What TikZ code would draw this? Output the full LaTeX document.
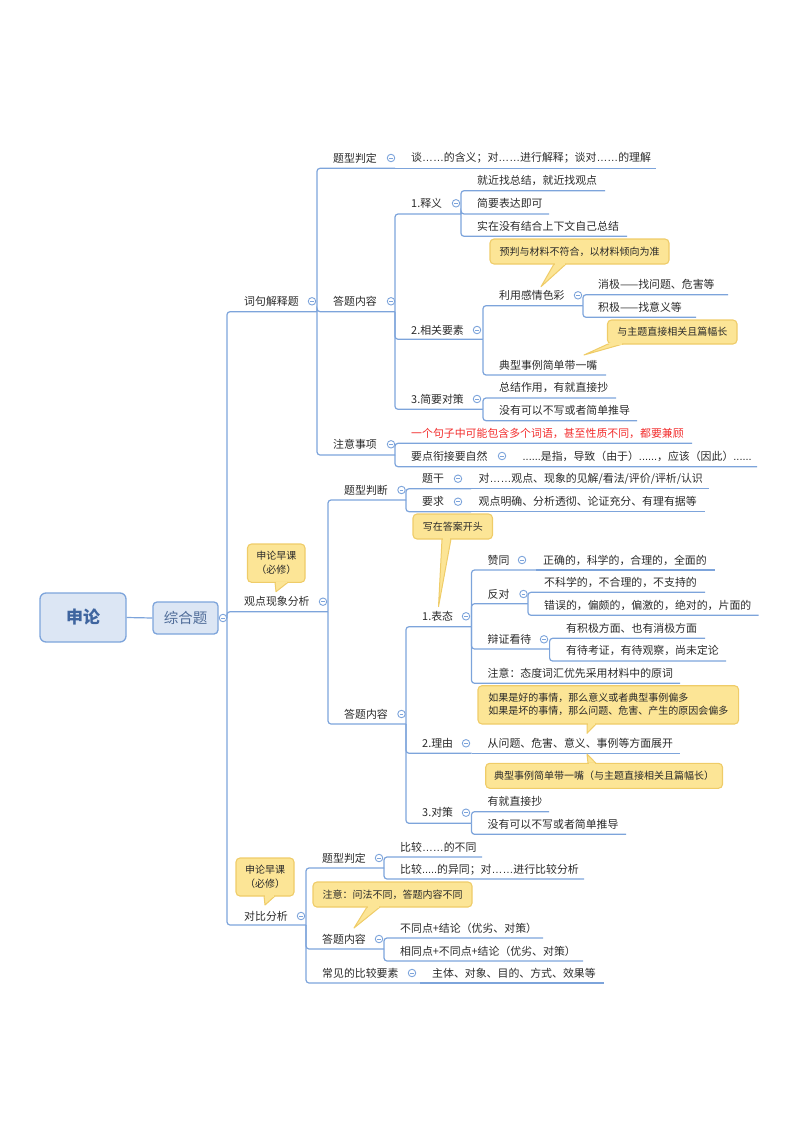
\documentclass[tikz,border=0pt]{standalone}
\usepackage{fontspec}
\setmainfont{Noto Sans CJK SC}
\newfontfamily\latinfont{Liberation Sans}
\newcommand{\dd}{{\latinfont ……}}
\newcommand{\dds}{{\latinfont ......}}
\definecolor{linkblue}{HTML}{7DA4DB}
\definecolor{rootfill}{HTML}{DCE6F4}
\definecolor{rootink}{HTML}{3F659F}
\definecolor{subink}{HTML}{4F6C98}
\definecolor{noteFill}{HTML}{FCE596}
\definecolor{noteLine}{HTML}{EFCC68}
\definecolor{inkc}{HTML}{2A2A2A}
\definecolor{redc}{HTML}{F22C2C}
\tikzset{
  link/.style={draw=linkblue,line width=1.2pt,rounded corners=3pt},
  txt/.style={anchor=west,inner sep=0pt,text=inkc,font=\fontsize{10.9}{13}\selectfont},
  foldm/.style={circle,draw=linkblue,fill=white,line width=0.9pt,minimum size=7.5pt,inner sep=0pt,
    path picture={\draw[linkblue,line width=0.7pt] ([xshift=1.8pt]path picture bounding box.west) -- ([xshift=-1.8pt]path picture bounding box.east);}},
  callbox/.style={draw=noteLine,fill=noteFill,line width=1.1pt,rounded corners=4pt,inner sep=0pt,align=center,text=inkc,font=\fontsize{10}{14}\selectfont},
  calltip/.style={draw=noteLine,fill=noteFill,line width=1pt,line join=round},
  rootbox/.style={draw=linkblue,fill=rootfill,line width=1.3pt,rounded corners=6pt,inner sep=0pt}
}
% name, text x, text y, end x, line y, text
\newcommand{\mmt}[6]{\node[txt] (#1) at (#2,#3) {#6}; \coordinate (#1-end) at (#4,#5);}
% name, x, y
\newcommand{\mmf}[3]{\node[foldm] (#1) at (#2,#3) {};}
% name, x1,y1,x2,y2, base y, base x1, base x2, tip x, tip y, text
\newcommand{\mmc}[9]{\pgfmathsetmacro\mmw{#4-#2}\pgfmathsetmacro\mmh{#5-#3}\pgfmathsetmacro\mmcx{(#2+#4)/2}\pgfmathsetmacro\mmcy{(#3+#5)/2}%
  \def\mmname{#1}\def\mmbase{#6}\def\mmba{#7}\def\mmbb{#8}\def\mmtx{#9}\mmcB}
\newcommand{\mmcB}[2]{%
  \draw[calltip] (\mmba,\mmbase) -- (\mmtx,#1) -- (\mmbb,\mmbase) -- cycle;
  \node[callbox,minimum width=\mmw pt,minimum height=\mmh pt] (\mmname) at (\mmcx,\mmcy) {#2};
  \draw[noteFill,line width=1.6pt] (\mmba+0.8,\mmbase) -- (\mmbb-0.8,\mmbase);}
\begin{document}
\begin{tikzpicture}[x=1pt,y=-1pt]
\useasboundingbox (0,0) rectangle (800,1132);
% root
\node[rootbox,minimum width=86pt,minimum height=49pt,font=\fontsize{17}{20}\selectfont\bfseries,text=rootink] (root) at (83,617.5) {申论};
\node[rootbox,minimum width=65pt,minimum height=32pt,rounded corners=4pt,font=\fontsize{14.5}{17}\selectfont,text=subink] (zonghe) at (185.5,618) {综合题};
\coordinate (trunk) at (227,618);
% ===== 词句解释题
\mmt{cj}{244}{301.3}{317}{311.7}{词句解释题}
\mmt{cj1}{333}{158}{395}{168.3}{题型判定}
\mmt{cj1a}{411}{158}{656}{168.3}{谈\dd 的含义；对\dd 进行解释；谈对\dd 的理解}
\mmt{cj2}{333}{301.3}{395}{311.7}{答题内容}
\mmt{sy}{411}{203.3}{461}{214}{1.释义}
\mmt{sya}{477}{180.7}{605}{190.7}{就近找总结，就近找观点}
\mmt{syb}{477}{203.3}{549}{214}{简要表达即可}
\mmt{syc}{477}{226.7}{627}{236.3}{实在没有结合上下文自己总结}
\mmt{xg}{411}{330}{483}{339.3}{2.相关要素}
\mmt{gq}{499}{295.3}{583}{305.7}{利用感情色彩}
\mmt{gqa}{598}{284.3}{728}{294.7}{消极——找问题、危害等}
\mmt{gqb}{598}{307.7}{696}{317.3}{积极——找意义等}
\mmt{dx}{499}{365}{606}{375}{典型事例简单带一嘴}
\mmt{dc}{411}{399}{483}{409.3}{3.简要对策}
\mmt{dca}{499}{387.7}{616}{398}{总结作用，有就直接抄}
\mmt{dcb}{499}{410.7}{637}{420.7}{没有可以不写或者简单推导}
\mmt{zy}{333}{444.3}{395}{455}{注意事项}
\mmt{zya}{411}{433.3}{692}{443.3}{\textcolor{redc}{一个句子中可能包含多个词语，甚至性质不同，都要兼顾}}
\mmt{zyb}{411}{456}{757}{466.7}{要点衔接要自然}
\mmt{zyc}{522.5}{456}{757}{466.7}{\dds 是指，导致（由于）\dds ，应该（因此）\dds}
% ===== 观点现象分析
\mmt{gd}{244}{601.7}{328}{611.7}{观点现象分析}
\mmt{tx}{344}{490}{406}{500}{题型判断}
\mmt{tg}{422}{478.7}{471}{488.7}{题干}
\mmt{tga}{478.5}{478.7}{708.5}{488.7}{对\dd 观点、现象的见解/看法/评价/评析/认识}
\mmt{yq}{422}{501.7}{471}{511.7}{要求}
\mmt{yqa}{478.5}{501.7}{705}{511.7}{观点明确、分析透彻、论证充分、有理有据等}
\mmt{dt}{344}{714}{406}{724}{答题内容}
\mmt{bt}{422}{616.3}{471.5}{626.7}{1.表态}
\mmt{zt}{487.5}{560}{536}{570}{赞同}
\mmt{zta}{543}{560}{714.6}{570}{正确的，科学的，合理的，全面的}
\mmt{fd}{487.5}{594}{528}{603.7}{反对}
\mmt{fda}{544}{582.7}{705}{592.3}{不科学的，不合理的，不支持的}
\mmt{fdb}{544}{605.7}{758.6}{615.3}{错误的，偏颇的，偏激的，绝对的，片面的}
\mmt{bz}{487.5}{639.3}{549.6}{649}{辩证看待}
\mmt{bza}{566}{628.3}{705}{638.3}{有积极方面、也有消极方面}
\mmt{bzb}{566}{650.7}{726}{661}{有待考证，有待观察，尚未定论}
\mmt{zyy}{487.5}{673.3}{680}{683.3}{注意：态度词汇优先采用材料中的原词}
\mmt{ly}{422}{743.3}{471.5}{753.3}{2.理由}
\mmt{lya}{487.5}{743.3}{680}{753.3}{从问题、危害、意义、事例等方面展开}
\mmt{dcc}{422}{812.7}{471.5}{823.3}{3.对策}
\mmt{dcca}{487.5}{801.7}{549}{811.7}{有就直接抄}
\mmt{dccb}{487.5}{824.3}{626}{834.3}{没有可以不写或者简单推导}
% ===== 对比分析
\mmt{db}{244}{916}{306}{925}{对比分析}
\mmt{dbt}{322}{858}{384}{868}{题型判定}
\mmt{dbta}{400}{847}{482}{857}{比较\dd 的不同}
\mmt{dbtb}{400}{870}{584}{879}{比较{\latinfont .....}的异同；对\dd 进行比较分析}
\mmt{dbd}{322}{939}{384}{949}{答题内容}
\mmt{dbda}{400}{928}{543}{938}{不同点+结论（优劣、对策）}
\mmt{dbdb}{400}{951}{583}{961}{相同点+不同点+结论（优劣、对策）}
\mmt{dby}{322}{973}{420}{983}{常见的比较要素}
\mmt{dbya}{432}{973}{604}{983}{主体、对象、目的、方式、效果等}
% ===== connectors
\draw[link] (root.east) -- (zonghe.west);
\draw[link] (zonghe.east) -- (trunk);
\foreach \c in {cj,gd,db} \draw[link] (trunk) |- (\c-end);
\foreach \c in {cj1,cj2,zy} \draw[link] (cj-end) |- (\c-end);
\draw[link] (cj1-end) -- (cj1a-end);
\foreach \c in {sy,xg,dc} \draw[link] (cj2-end) |- (\c-end);
\foreach \c in {sya,syb,syc} \draw[link] (sy-end) |- (\c-end);
\foreach \c in {gq,dx} \draw[link] (xg-end) |- (\c-end);
\foreach \c in {gqa,gqb} \draw[link] (gq-end) |- (\c-end);
\foreach \c in {dca,dcb} \draw[link] (dc-end) |- (\c-end);
\foreach \c in {zya,zyb} \draw[link] (zy-end) |- (\c-end);
\foreach \c in {tx,dt} \draw[link] (gd-end) |- (\c-end);
\foreach \c in {tg,yq} \draw[link] (tx-end) |- (\c-end);
\draw[link] (tg-end) -- (tga-end);
\draw[link] (yq-end) -- (yqa-end);
\foreach \c in {bt,ly,dcc} \draw[link] (dt-end) |- (\c-end);
\foreach \c in {zt,fd,bz,zyy} \draw[link] (bt-end) |- (\c-end);
\draw[link] (zt-end) -- (zta-end);
\foreach \c in {fda,fdb} \draw[link] (fd-end) |- (\c-end);
\foreach \c in {bza,bzb} \draw[link] (bz-end) |- (\c-end);
\draw[link] (ly-end) -- (lya-end);
\foreach \c in {dcca,dccb} \draw[link] (dcc-end) |- (\c-end);
\foreach \c in {dbt,dbd,dby} \draw[link] (db-end) |- (\c-end);
\foreach \c in {dbta,dbtb} \draw[link] (dbt-end) |- (\c-end);
\foreach \c in {dbda,dbdb} \draw[link] (dbd-end) |- (\c-end);
\draw[link] (dby-end) -- (dbya-end);
% ===== fold marks
\mmf{f0}{223}{618}
\mmf{f1}{312}{301.3}\mmf{f2}{391}{158}\mmf{f3}{391}{301.3}\mmf{f4}{456}{203.3}\mmf{f5}{477}{330}
\mmf{f6}{578}{295.3}\mmf{f7}{477}{399}\mmf{f8}{391}{444.3}\mmf{f9}{502}{456}
\mmf{f10}{323}{601.7}\mmf{f11}{401.5}{490}\mmf{f12}{458}{478.7}\mmf{f13}{458}{501.7}\mmf{f14}{401.5}{714}
\mmf{f15}{466}{616.3}\mmf{f16}{522}{560}\mmf{f17}{523.5}{594}\mmf{f18}{544}{639.3}\mmf{f19}{466}{743.3}\mmf{f20}{466}{812.7}
\mmf{f21}{301}{916}\mmf{f22}{379}{858}\mmf{f23}{379}{939}\mmf{f24}{412}{973}
% ===== callouts
\mmc{n1}{490}{239}{669}{264}{264}{554}{566}{541}{286.7}{预判与材料不符合，以材料倾向为准}
\mmc{n2}{607.5}{320}{737}{344}{344}{608}{623}{584}{355}{与主题直接相关且篇幅长}
\mmc{n3}{413}{514}{492.5}{539}{539}{442}{451}{438.5}{606.7}{写在答案开头}
\mmc{n4}{247.5}{544}{305}{582.3}{582.3}{275}{288}{276}{591.7}{申论早课\\（必修）}
\mmc{n5}{478}{685.7}{738.6}{724}{724}{587}{596}{587}{733.3}{\begin{tabular}{@{}l@{}}如果是好的事情，那么意义或者典型事例偏多\\[-1pt]如果是坏的事情，那么问题、危害、产生的原因会偏多\end{tabular}}
\mmc{n6}{485.7}{763.3}{722.5}{788.3}{763.3}{588}{596}{587}{754}{典型事例简单带一嘴（与主题直接相关且篇幅长）}
\mmc{n7}{236}{858}{294}{896}{896}{264}{275}{265}{905}{申论早课\\（必修）}
\mmc{n8}{313}{882}{472}{907}{907}{367}{380}{354}{928}{注意：问法不同，答题内容不同}
\end{tikzpicture}
\end{document}
